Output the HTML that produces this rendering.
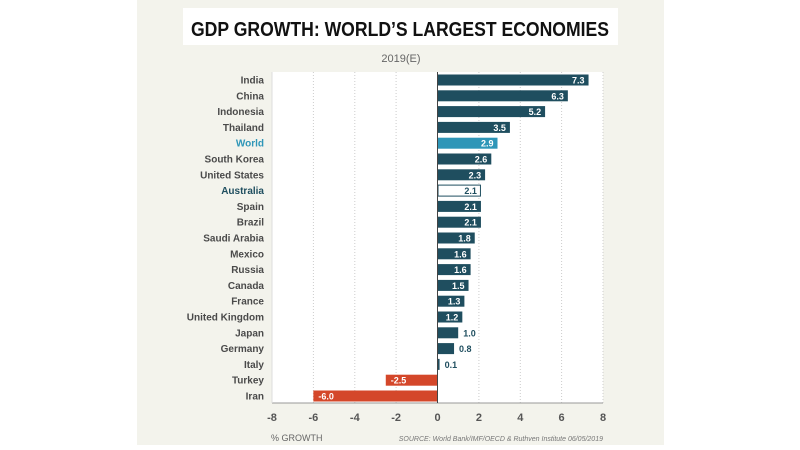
<!DOCTYPE html>
<html><head><meta charset="utf-8"><style>
html,body{margin:0;padding:0;background:#fff;width:800px;height:450px;overflow:hidden}
</style></head><body>
<svg width="800" height="450" xmlns="http://www.w3.org/2000/svg" font-family="Liberation Sans, sans-serif">
<rect x="137" y="0" width="527" height="445" fill="#f3f3ec"/>
<rect x="183" y="8" width="435" height="37" fill="#fff"/>
<text x="400" y="36" text-anchor="middle" font-size="20" font-weight="bold" fill="#111" textLength="418" lengthAdjust="spacingAndGlyphs">GDP GROWTH: WORLD’S LARGEST ECONOMIES</text>
<text x="401" y="62" text-anchor="middle" font-size="11" fill="#666">2019(E)</text>
<rect x="272" y="72" width="331" height="331" fill="#fff"/>
<g stroke="#ccc" stroke-dasharray="1,2" stroke-width="1">
<line x1="313.4" y1="72" x2="313.4" y2="403"/><line x1="354.8" y1="72" x2="354.8" y2="403"/><line x1="396.1" y1="72" x2="396.1" y2="403"/>
<line x1="478.9" y1="72" x2="478.9" y2="403"/><line x1="520.3" y1="72" x2="520.3" y2="403"/><line x1="561.6" y1="72" x2="561.6" y2="403"/><line x1="603" y1="72" x2="603" y2="403"/>
</g>
<line x1="272" y1="403" x2="603" y2="403" stroke="#999"/>
<line x1="272" y1="72" x2="272" y2="403" stroke="#ddd"/>
<g font-size="11" font-weight="bold" fill="#555" text-anchor="middle">
<text x="272" y="421">-8</text><text x="313.4" y="421">-6</text><text x="354.8" y="421">-4</text><text x="396.1" y="421">-2</text><text x="437.5" y="421">0</text><text x="478.9" y="421">2</text><text x="520.3" y="421">4</text><text x="561.6" y="421">6</text><text x="603" y="421">8</text>
</g>
<text x="271" y="441" font-size="9" fill="#666">% GROWTH</text>
<text x="603" y="441" font-size="7" font-style="italic" fill="#777" text-anchor="end">SOURCE: World Bank/IMF/OECD &amp; Ruthven Institute 06/05/2019</text>
<g id="bars" font-weight="bold"></g>
<line x1="437.5" y1="72" x2="437.5" y2="403" stroke="#444"/>
</svg>
<script>
var d=[["India",7.3],["China",6.3],["Indonesia",5.2],["Thailand",3.5],["World",2.9],["South Korea",2.6],["United States",2.3],["Australia",2.1],["Spain",2.1],["Brazil",2.1],["Saudi Arabia",1.8],["Mexico",1.6],["Russia",1.6],["Canada",1.5],["France",1.3],["United Kingdom",1.2],["Japan",1.0],["Germany",0.8],["Italy",0.1],["Turkey",-2.5],["Iran",-6.0]];
var g=document.getElementById('bars'),s="",z=437.5,k=20.69;
d.forEach(function(r,i){var y=80+i*15.8,v=r[1],n=r[0];
var c=v<0?"#d4472a":(n=="World"?"#2e96b8":"#1f4e5f");
var lc=n=="World"?"#2e96b8":(n=="Australia"?"#1f4e5f":"#4a4a4a");
s+='<text x="264" y="'+(y+3.5)+'" text-anchor="end" font-size="10" fill="'+lc+'">'+n+'</text>';
var x=v<0?z+v*k:z,w=Math.abs(v)*k;
if(n=="Australia")s+='<rect x="'+(x+0.5)+'" y="'+(y-5.5)+'" width="'+(w-1)+'" height="11" fill="#fff" stroke="#1f4e5f"/>';
else s+='<rect x="'+x+'" y="'+(y-5.5)+'" width="'+w+'" height="11" fill="'+c+'"/>';
var t=v.toFixed(1);
if(v<0)s+='<text x="'+(x+5)+'" y="'+(y+3.5)+'" font-size="9" fill="#fff">'+t+'</text>';
else if(v<1.1)s+='<text x="'+(x+w+5)+'" y="'+(y+3.5)+'" font-size="9" fill="#1f4e5f">'+t+'</text>';
else s+='<text x="'+(x+w-4)+'" y="'+(y+3.5)+'" text-anchor="end" font-size="9" fill="'+(n=="Australia"?"#1f4e5f":"#fff")+'">'+t+'</text>';
});
g.innerHTML=s;
</script>
</body></html>
